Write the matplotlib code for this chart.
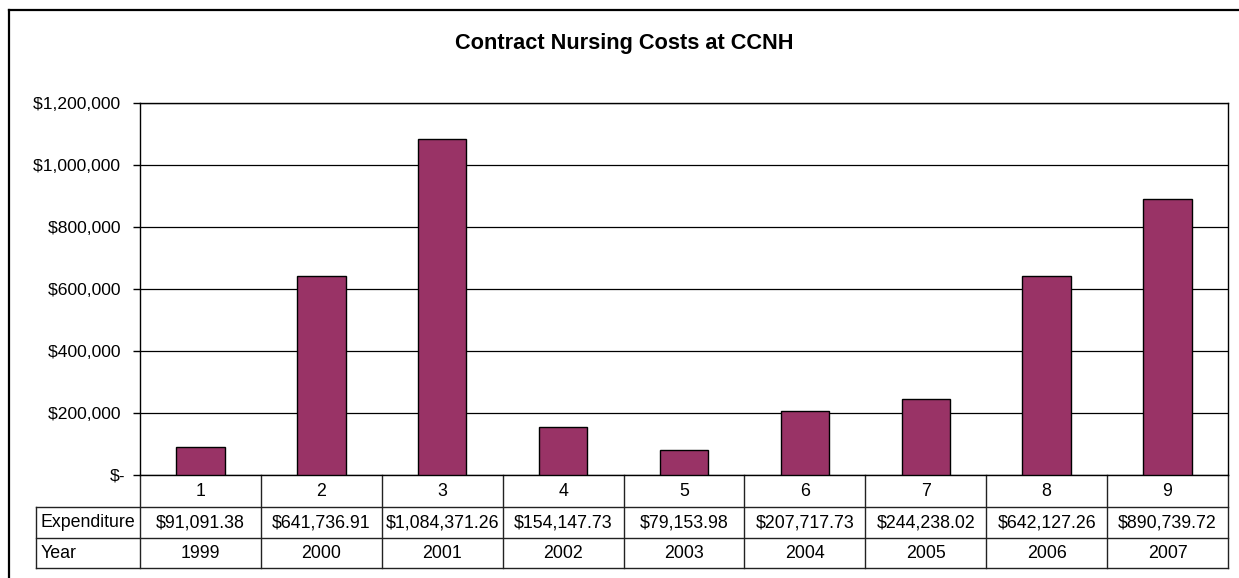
import matplotlib.pyplot as plt
import matplotlib.transforms as mtransforms
from matplotlib.lines import Line2D
from matplotlib.ticker import FuncFormatter

plt.rcParams['font.family'] = ['Liberation Sans', 'DejaVu Sans']

# data
categories = ['1', '2', '3', '4', '5', '6', '7', '8', '9']
expenditure = [91091.38, 641736.91, 1084371.26, 154147.73, 79153.98,
               207717.73, 244238.02, 642127.26, 890739.72]
years = ['1999', '2000', '2001', '2002', '2003', '2004', '2005', '2006', '2007']
yticks = [0, 200000, 400000, 600000, 800000, 1000000, 1200000]

W, H = 1239, 578
fig = plt.figure(figsize=(W / 100, H / 100), dpi=100)

# plot area in pixels
left, right, top, bottom = 140, 1228, 103, 475
ax = fig.add_axes([left / W, 1 - bottom / H, (right - left) / W, (bottom - top) / H])

x = list(range(len(categories)))
ax.bar(x, expenditure, width=0.4, color='#993366', edgecolor='black', linewidth=1, zorder=3)

ax.set_xlim(-0.5, len(categories) - 0.5)
ax.set_ylim(0, 1200000)
ax.set_yticks(yticks)


def money(v, pos):
    # accounting style: zero shown as a dash, others padded by a space
    if v == 0:
        return '$-'
    return f'${v:,.0f} '


ax.yaxis.set_major_formatter(FuncFormatter(money))
ax.tick_params(axis='y', direction='out', length=5, width=1, pad=5.8, labelsize=12.6)
ax.set_xticks([])
ax.grid(axis='y', color='black', linewidth=0.9, zorder=0)
for s in ax.spines.values():
    s.set_color('black')
    s.set_linewidth(1)

fig.text(624 / W, 1 - 43 / H, 'Contract Nursing Costs at CCNH', fontsize=15.7,
         fontweight='bold', ha='center', va='center')

# data table below the axis
trans = mtransforms.blended_transform_factory(ax.transData, ax.transAxes)
ph = bottom - top
rows = [475, 507, 538, 568]
ry = [-(r - bottom) / ph for r in rows]
lab_x = (36 - left) / (right - left)
tcol = '#222222'
fs = 12.8

for i in range(len(categories)):
    ax.text(i, (ry[0] + ry[1]) / 2, categories[i], transform=trans, ha='center', va='center',
            fontsize=fs, clip_on=False)
    ax.text(i, (ry[1] + ry[2]) / 2, f'${expenditure[i]:,.2f}', transform=trans, ha='center',
            va='center', fontsize=fs, clip_on=False)
    ax.text(i, (ry[2] + ry[3]) / 2, years[i], transform=trans, ha='center', va='center',
            fontsize=fs, clip_on=False)

# vertical lines between columns
for i in range(len(categories) + 1):
    ax.add_line(Line2D([i - 0.5, i - 0.5], [ry[0], ry[3]], transform=trans, color=tcol,
                       linewidth=1, clip_on=False))
# horizontal lines
for yy in ry[1:]:
    ax.add_line(Line2D([lab_x, 1], [yy, yy], transform=ax.transAxes, color=tcol,
                       linewidth=1, clip_on=False))
ax.add_line(Line2D([lab_x, lab_x], [ry[1], ry[3]], transform=ax.transAxes, color=tcol,
                   linewidth=1, clip_on=False))
ax.text(lab_x + 0.004, (ry[1] + ry[2]) / 2, 'Expenditure', transform=ax.transAxes, ha='left',
        va='center', fontsize=fs, clip_on=False)
ax.text(lab_x + 0.004, (ry[2] + ry[3]) / 2, 'Year', transform=ax.transAxes, ha='left',
        va='center', fontsize=fs, clip_on=False)

# outer chart frame (left and top edges visible)
fig.add_artist(Line2D([9 / W, 1], [1 - 10 / H, 1 - 10 / H], transform=fig.transFigure,
                      color='black', linewidth=1.6))
fig.add_artist(Line2D([9 / W, 9 / W], [0, 1 - 10 / H], transform=fig.transFigure,
                      color='black', linewidth=1.6))

fig.savefig('out.png', dpi=100, facecolor='white')
